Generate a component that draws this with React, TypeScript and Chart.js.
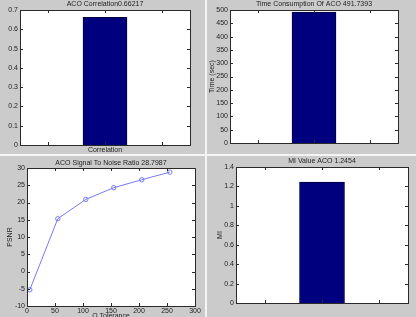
import React, { useEffect, useRef } from 'react';
import { Chart, registerables } from 'chart.js';
Chart.register(...registerables);

// ---- data ----
const corrCategory = ['Correlation'];
const corrValue = [0.66217];
const timeValue = [491.7393];
const miValue = [1.2454];
const qTolerance = [5, 55, 105, 155, 205, 255];
const psnrValues = [-5.3, 15.3, 20.9, 24.3, 26.6, 28.7987];
const titles = [
  'ACO Correlation0.66217',
  'Time Consumption Of ACO 491.7393',
  'ACO Signal To Noise Ratio 28.7987',
  'MI Value ACO 1.2454',
];
const barTickPositions = [2 / 3, 1, 4 / 3];

const FONT = '"Liberation Sans", Arial, sans-serif';
const GRAY = '#cbcbcb';
const TEXT = '#1e1e1e';
const BAR = '#00007e';
const LINE = '#7a7af2';

const fmt = (v: number) => String(Number(Number(v).toFixed(3)));

function matlabPlugin(title: string, titleY: number) {
  return {
    id: 'matlab',
    beforeDraw(chart: any) {
      const { ctx, chartArea: a } = chart;
      ctx.save();
      ctx.fillStyle = GRAY;
      ctx.fillRect(0, 0, chart.width, chart.height);
      ctx.fillStyle = '#ffffff';
      ctx.fillRect(a.left, a.top, a.right - a.left, a.bottom - a.top);
      ctx.restore();
    },
    afterDraw(chart: any) {
      const { ctx, chartArea: a } = chart;
      ctx.save();
      ctx.strokeStyle = '#2a2a2a';
      ctx.lineWidth = 1;
      ctx.strokeRect(Math.round(a.left) + 0.5, Math.round(a.top) + 0.5, Math.round(a.right - a.left), Math.round(a.bottom - a.top));
      const tl = 3;
      const xs = chart.scales.x;
      const ys = chart.scales.y;
      ctx.beginPath();
      xs.ticks.forEach((t: any) => {
        const px = Math.round(xs.getPixelForValue(t.value)) + 0.5;
        ctx.moveTo(px, a.bottom);
        ctx.lineTo(px, a.bottom - tl);
        ctx.moveTo(px, a.top);
        ctx.lineTo(px, a.top + tl);
      });
      ys.ticks.forEach((t: any) => {
        const py = Math.round(ys.getPixelForValue(t.value)) + 0.5;
        ctx.moveTo(a.left, py);
        ctx.lineTo(a.left + tl, py);
        ctx.moveTo(a.right, py);
        ctx.lineTo(a.right - tl, py);
      });
      ctx.stroke();
      ctx.fillStyle = TEXT;
      ctx.font = `7px ${FONT}`;
      ctx.textAlign = 'center';
      ctx.textBaseline = 'middle';
      ctx.fillText(title, (a.left + a.right) / 2, titleY);
      ctx.restore();
    },
  };
}

type PanelCfg = {
  left: number;
  top: number;
  width: number;
  height: number;
  build: () => any;
};

function Panel({ cfg }: { cfg: PanelCfg }) {
  const ref = useRef<HTMLCanvasElement>(null);
  useEffect(() => {
    const chart = new Chart(ref.current!, cfg.build());
    return () => chart.destroy();
  }, []);
  return (
    <canvas
      ref={ref}
      width={cfg.width}
      height={cfg.height}
      style={{ position: 'absolute', left: cfg.left, top: cfg.top, width: cfg.width, height: cfg.height }}
    />
  );
}

const tickFont = { size: 7, family: FONT };

function barConfig(opts: {
  value: number[];
  max: number;
  step: number;
  yWidth: number;
  xHeight: number;
  padRight: number;
  padTop: number;
  barWidth: number;
  title: string;
  titleY: number;
  xLabel: string | null;
  yTitle: string | null;
  yTitlePad: number;
}) {
  return {
    type: 'bar',
    data: {
      datasets: [
        {
          data: opts.value.map((v) => ({ x: 1, y: v })),
          backgroundColor: BAR,
          borderColor: '#00003a',
          borderWidth: 1,
          barThickness: opts.barWidth,
        },
      ],
    },
    options: {
      responsive: false,
      animation: false,
      layout: { padding: { left: 0, right: opts.padRight, top: opts.padTop, bottom: 0 } },
      plugins: { legend: { display: false }, tooltip: { enabled: false }, title: { display: false } },
      scales: {
        x: {
          type: 'linear',
          min: 0.5,
          max: 1.5,
          offset: false,
          grid: { display: false, drawTicks: false },
          border: { display: false },
          afterBuildTicks: (s: any) => {
            s.ticks = barTickPositions.map((v) => ({ value: v }));
          },
          afterFit: (s: any) => {
            s.height = opts.xHeight;
          },
          ticks: {
            autoSkip: false,
            maxRotation: 0,
            padding: 1,
            font: tickFont,
            color: TEXT,
            callback: (v: number) => (Math.abs(v - 1) < 1e-6 && opts.xLabel ? opts.xLabel : ''),
          },
        },
        y: {
          min: 0,
          max: opts.max,
          grid: { display: false, drawTicks: false },
          border: { display: false },
          afterFit: (s: any) => {
            s.width = opts.yWidth;
          },
          ticks: { stepSize: opts.step, padding: 2, font: tickFont, color: TEXT, callback: (v: number) => fmt(v) },
          title: opts.yTitle
            ? { display: true, text: opts.yTitle, font: tickFont, color: TEXT, padding: { top: opts.yTitlePad, bottom: 0 } }
            : { display: false },
        },
      },
    },
    plugins: [matlabPlugin(opts.title, opts.titleY)],
  };
}

const panels: PanelCfg[] = [
  {
    left: 0,
    top: 0,
    width: 205,
    height: 154,
    build: () =>
      barConfig({
        value: corrValue,
        max: 0.7,
        step: 0.1,
        yWidth: 20,
        xHeight: 9,
        padRight: 15,
        padTop: 10,
        barWidth: 44,
        title: titles[0],
        titleY: 4,
        xLabel: corrCategory[0],
        yTitle: null,
        yTitlePad: 0,
      }),
  },
  {
    left: 207,
    top: 0,
    width: 209,
    height: 154,
    build: () =>
      barConfig({
        value: timeValue,
        max: 500,
        step: 50,
        yWidth: 23,
        xHeight: 11,
        padRight: 18,
        padTop: 10,
        barWidth: 44,
        title: titles[1],
        titleY: 4,
        xLabel: null,
        yTitle: 'Time (sec)',
        yTitlePad: 1,
      }),
  },
  {
    left: 0,
    top: 156,
    width: 205,
    height: 166,
    build: () => ({
      type: 'line',
      data: {
        datasets: [
          {
            data: qTolerance.map((x, i) => ({ x, y: psnrValues[i] })),
            borderColor: LINE,
            borderWidth: 1,
            pointStyle: 'circle',
            pointRadius: 2.2,
            pointBorderColor: LINE,
            pointBackgroundColor: 'rgba(0,0,0,0)',
            pointBorderWidth: 1,
            tension: 0,
          },
        ],
      },
      options: {
        responsive: false,
        animation: false,
        layout: { padding: { left: 0, right: 10, top: 12, bottom: 0 } },
        plugins: { legend: { display: false }, tooltip: { enabled: false }, title: { display: false } },
        scales: {
          x: {
            type: 'linear',
            min: 0,
            max: 300,
            grid: { display: false, drawTicks: false },
            border: { display: false },
            afterFit: (s: any) => {
              s.height = 16;
            },
            ticks: { stepSize: 50, maxRotation: 0, padding: 1, font: tickFont, color: TEXT, callback: (v: number) => fmt(v) },
            title: { display: true, text: 'Q Tolerance', font: tickFont, color: TEXT, padding: { top: 0, bottom: 2 } },
          },
          y: {
            min: -10,
            max: 30,
            grid: { display: false, drawTicks: false },
            border: { display: false },
            afterFit: (s: any) => {
              s.width = 27;
            },
            ticks: { stepSize: 5, padding: 2, font: tickFont, color: TEXT, callback: (v: number) => fmt(v) },
            title: { display: true, text: 'PSNR', font: tickFont, color: TEXT, padding: { top: 6, bottom: 0 } },
          },
        },
      },
      plugins: [matlabPlugin(titles[2], 7)],
    }),
  },
  {
    left: 207,
    top: 156,
    width: 209,
    height: 161,
    build: () =>
      barConfig({
        value: miValue,
        max: 1.4,
        step: 0.2,
        yWidth: 29,
        xHeight: 14,
        padRight: 8,
        padTop: 11,
        barWidth: 45,
        title: titles[3],
        titleY: 5,
        xLabel: null,
        yTitle: 'MI',
        yTitlePad: 9,
      }),
  },
];

export default function App() {
  return (
    <div
      style={{
        position: 'fixed',
        left: 0,
        top: 0,
        width: 416,
        height: 317,
        background: '#f4f4f4',
        overflow: 'hidden',
      }}
    >
      {panels.map((p, i) => (
        <Panel key={i} cfg={p} />
      ))}
    </div>
  );
}
